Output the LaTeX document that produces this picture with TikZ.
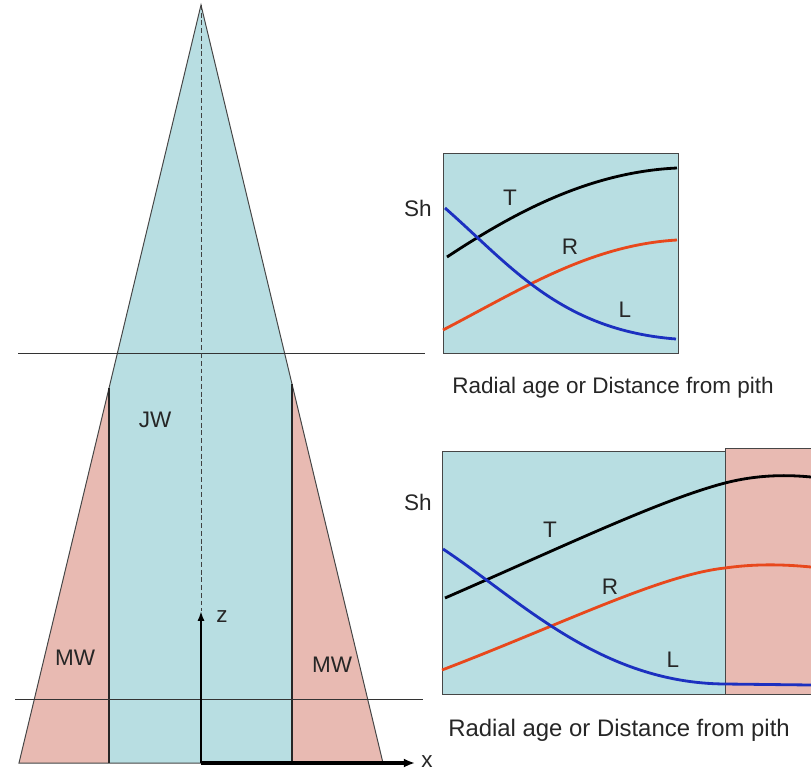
\documentclass[tikz,border=0pt]{standalone}
\usepackage{fontspec}
\setmainfont{Liberation Sans}
\usetikzlibrary{positioning, arrows.meta}

\definecolor{jwblue}{RGB}{184,222,226}
\definecolor{mwpink}{RGB}{232,186,178}
\definecolor{edgegray}{RGB}{70,70,70}
\definecolor{curvered}{RGB}{232,72,28}
\definecolor{curveblue}{RGB}{28,48,192}

\begin{document}
\begin{tikzpicture}[
  x=0.025cm, y=-0.025cm,
  every node/.style={font=\fontsize{16}{19}\selectfont, text=black!85, inner sep=0pt},
  outline/.style={draw=edgegray, line width=0.7pt},
  boundary/.style={draw=black!85, line width=0.9pt},
  cutline/.style={draw=black!80, line width=0.7pt},
  pithline/.style={draw=black!75, line width=0.7pt, dash pattern=on 3.5pt off 2pt},
  zarrow/.style={-{Latex[length=7pt, width=5pt]}, line width=1.4pt},
  xarrow/.style={-{Latex[length=8pt, width=6.5pt]}, line width=2.4pt},
  shcurve/.style={line width=2pt},
  axislabel/.style={anchor=base west, font=\fontsize{16}{19}\selectfont}
]
\useasboundingbox (0,0) rectangle (811,771);

% -------- STEM: JUVENILE AND MATURE WOOD --------
\coordinate (apex) at (201,5);
\coordinate (baseL) at (19,763);
\coordinate (baseR) at (383,763);
\coordinate (mwL) at (109,388);
\coordinate (mwR) at (292,384);
\coordinate (mwLb) at (109,763);
\coordinate (mwRb) at (292,763);

\fill[jwblue] (apex) -- (baseR) -- (baseL) -- cycle;
\fill[mwpink] (baseL) -- (mwL) -- (mwLb) -- cycle;
\fill[mwpink] (baseR) -- (mwR) -- (mwRb) -- cycle;
\draw[outline] (apex) -- (baseR) -- (baseL) -- cycle;
\draw[boundary] (mwL) -- (mwLb);
\draw[boundary] (mwR) -- (mwRb);

% Sampling heights
\draw[cutline] (18,353) -- (425,353);
\draw[cutline] (15,699) -- (423,699);

\node (jw) at (155,420) {JW};
\node (mwleft) at (75,658) {MW};
\node (mwright) at (332,665) {MW};

% Axes from the pith
\coordinate (origin) at (201,763);
\coordinate (ztip) at (201,611);
\coordinate (xtip) at (415,763);
\draw[pithline] (apex) -- (ztip);
\draw[zarrow] (origin) -- (ztip);
\draw[xarrow] (origin) -- (xtip);
\node (zlab) at (222,617) {z};
\node (xlab) at (427,762) {x};

% -------- UPPER PLOT: JUVENILE ZONE --------
\draw[outline, fill=jwblue] (443,153) rectangle (678,353);
\draw[shcurve, black] (447,257) .. controls (515,212) and (590,172) .. (677,168);
\draw[shcurve, curvered] (443,330) .. controls (520,290) and (590,245) .. (677,240);
\draw[shcurve, curveblue] (445,208) .. controls (510,265) and (560,330) .. (676,339);

\node (sh1) at (418,208) {Sh};
\node (t1) at (510,198) {T};
\node (r1) at (570,247) {R};
\node (l1) at (625,310) {L};
\node[axislabel] (xlab1) at (452,393) {Radial age or Distance from pith};

% -------- LOWER PLOT: JUVENILE + MATURE ZONE --------
\draw[outline, fill=jwblue] (442,451) rectangle (725,694);
\draw[outline, fill=mwpink] (725,448) rectangle (815,694);
\draw[shcurve, black] (445,598) .. controls (560,548) and (660,500) .. (725,483)
  .. controls (760,474) and (790,475) .. (811,477);
\draw[shcurve, curvered] (442,670) .. controls (560,625) and (660,575) .. (725,568)
  .. controls (760,563) and (790,565) .. (811,567);
\draw[shcurve, curveblue] (443,549) .. controls (520,600) and (600,683) .. (725,684) -- (811,685);

\node (sh2) at (418,502) {Sh};
\node (t2) at (550,530) {T};
\node (r2) at (610,587) {R};
\node (l2) at (673,660) {L};
\node[axislabel, font=\fontsize{17}{20}\selectfont] (xlab2) at (448,736) {Radial age or Distance from pith};

\end{tikzpicture}
\end{document}
